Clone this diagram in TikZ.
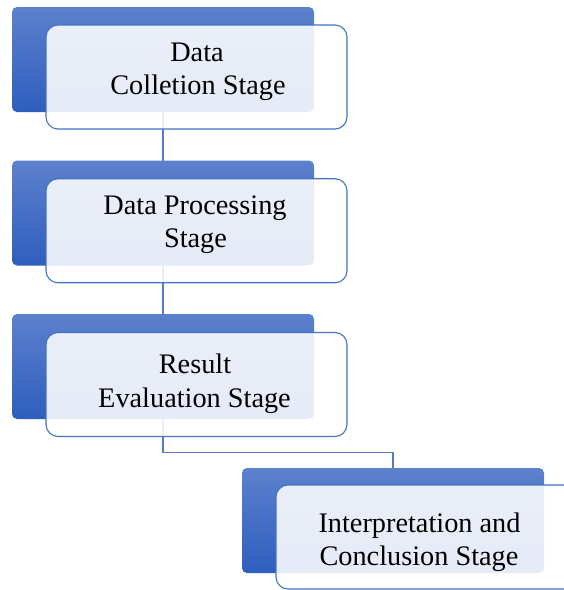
\documentclass[tikz,border=0pt]{standalone}
\usepackage{fontspec}
\setmainfont{Liberation Serif}
\definecolor{bluetop}{RGB}{92,129,205}
\definecolor{bluebot}{RGB}{46,94,190}
\definecolor{lineblue}{RGB}{68,114,196}
\definecolor{connblue}{RGB}{88,122,196}
\tikzset{
  backbox/.style={rectangle, rounded corners=5pt, minimum width=302pt, minimum height=105pt,
    inner sep=0pt, outer sep=0pt, top color=bluetop, bottom color=bluebot, draw=none},
  frontbox/.style={rectangle, rounded corners=12pt, minimum width=301pt, minimum height=104pt,
    inner sep=0pt, outer sep=0pt, fill=white, fill opacity=0.88, draw=lineblue, draw opacity=1, line width=1.1pt},
  conn/.style={draw=connblue, line width=1.4pt},
  label/.style={anchor=base, inner sep=0pt, font=\fontsize{28.3}{34}\selectfont, text=black}
}
\begin{document}
\begin{tikzpicture}[x=1pt, y=-1pt]
\useasboundingbox (0,0) rectangle (564,590);
% connectors (behind boxes)
\coordinate (k1) at (163,59.5);
\coordinate (k2) at (163,213);
\coordinate (k3) at (163,366.5);
\coordinate (k4) at (393,520.5);
\coordinate (j) at (163,452.5);
\draw[conn] (k1) -- (k2);
\draw[conn] (k2) -- (k3);
\draw[conn] (k3) -- (j) -| (k4);
% back boxes
\node[backbox] (b1) at (k1) {};
\node[backbox] (b2) at (k2) {};
\node[backbox] (b3) at (k3) {};
\node[backbox] (b4) at (k4) {};
% front boxes
\node[frontbox] (f1) at (196.5,77) {};
\node[frontbox] (f2) at (196.5,230.75) {};
\node[frontbox] (f3) at (196.5,384.5) {};
\node[frontbox] (f4) at (426.5,537) {};
% labels
\node[label] (t1a) at (197,61) {Data};
\node[label] (t1b) at (198,94) {Colletion Stage};
\node[label] (t2a) at (195,214) {Data Processing};
\node[label] (t2b) at (195.5,247) {Stage};
\node[label] (t3a) at (195,373) {Result};
\node[label] (t3b) at (194.5,407) {Evaluation Stage};
\node[label] (t4a) at (419.5,532) {Interpretation and};
\node[label] (t4b) at (419,565) {Conclusion Stage};
\end{tikzpicture}
\end{document}
